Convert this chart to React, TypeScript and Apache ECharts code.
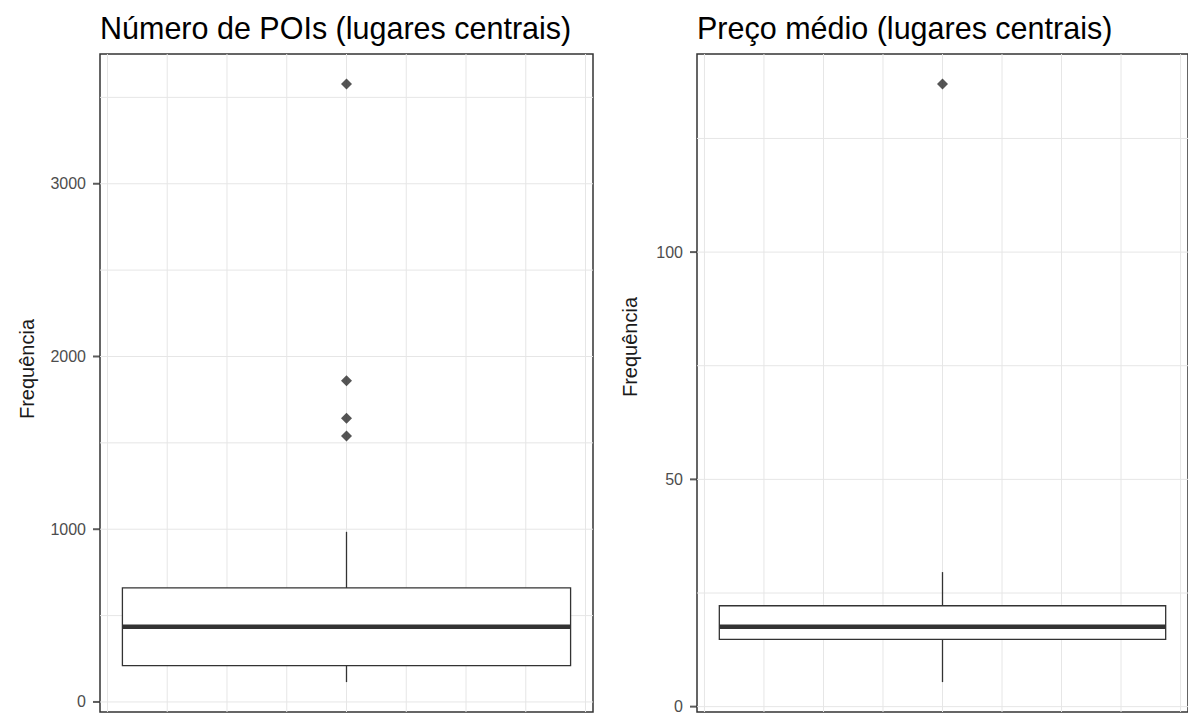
import React, { useEffect, useRef } from "react";
import * as echarts from "echarts";

// Panel texts
const panelTitles = ["Número de POIs (lugares centrais)", "Preço médio (lugares centrais)"];
const yAxisTitle = "Frequência";

// Five-number summaries: lower whisker, Q1, median, Q3, upper whisker
const poiBox = [115, 210, 436, 660, 985];
const poiOutliers = [3578, 1860, 1642, 1539];
const priceBox = [5.4, 14.8, 17.6, 22.2, 29.6];
const priceOutliers = [137];

// Tick labels and grid lines
const poiTicks = [0, 1000, 2000, 3000];
const poiGridLines = [0, 500, 1000, 1500, 2000, 2500, 3000, 3500];
const priceTicks = [0, 50, 100];
const priceGridLines = [0, 25, 50, 75, 100, 125];
const xGridLines = [-0.4, -0.3, -0.2, -0.1, 0, 0.1, 0.2, 0.3, 0.4];

const BOX_HALF_WIDTH = 0.375;
const X_LIMIT = 0.4125;
const TICK_LENGTH = 7;
const INK = "#333333";
const GRID_COLOR = "#e6e6e6";
const FONT = "'Liberation Sans', Arial, sans-serif";

// ggplot-like 5% expansion of the data range
function expandedRange(box: number[], outliers: number[]) {
  const lo = Math.min(box[0], ...outliers);
  const hi = Math.max(box[4], ...outliers);
  const pad = (hi - lo) * 0.05;
  return [lo - pad, hi + pad];
}

// Draws panel grid lines and a ggplot-style box (no whisker caps)
function makeBoxRenderer(yLines: number[]) {
  return (params: any, api: any) => {
    const cs = params.coordSys;
    const x = api.value(0);
    const halfW = api.size([BOX_HALF_WIDTH, 0])[0];
    const cx = api.coord([x, api.value(1)])[0];
    const yLo = api.coord([x, api.value(1)])[1];
    const yQ1 = api.coord([x, api.value(2)])[1];
    const yMed = api.coord([x, api.value(3)])[1];
    const yQ3 = api.coord([x, api.value(4)])[1];
    const yHi = api.coord([x, api.value(5)])[1];
    const children: any[] = [];
    yLines.forEach((v) => {
      const y = api.coord([0, v])[1];
      children.push({
        type: "line",
        shape: { x1: cs.x, y1: y, x2: cs.x + cs.width, y2: y },
        style: { stroke: GRID_COLOR, lineWidth: 1 },
      });
    });
    xGridLines.forEach((v) => {
      const gx = api.coord([v, 0])[0];
      children.push({
        type: "line",
        shape: { x1: gx, y1: cs.y, x2: gx, y2: cs.y + cs.height },
        style: { stroke: GRID_COLOR, lineWidth: 1 },
      });
    });
    children.push(
      { type: "line", shape: { x1: cx, y1: yLo, x2: cx, y2: yQ1 }, style: { stroke: INK, lineWidth: 1.3 } },
      { type: "line", shape: { x1: cx, y1: yQ3, x2: cx, y2: yHi }, style: { stroke: INK, lineWidth: 1.3 } },
      {
        type: "rect",
        shape: { x: cx - halfW, y: yQ3, width: halfW * 2, height: yQ1 - yQ3 },
        style: { fill: "#ffffff", stroke: INK, lineWidth: 1.3 },
      },
      {
        type: "line",
        shape: { x1: cx - halfW, y1: yMed, x2: cx + halfW, y2: yMed },
        style: { stroke: INK, lineWidth: 4.5 },
      }
    );
    return { type: "group", children };
  };
}

export default function App() {
  const ref = useRef<HTMLDivElement>(null);

  useEffect(() => {
    if (!ref.current) return;
    const chart = echarts.init(ref.current, undefined, { renderer: "svg" });
    const poiRange = expandedRange(poiBox, poiOutliers);
    const priceRange = expandedRange(priceBox, priceOutliers);

    const gridBase = {
      show: true,
      top: 54,
      height: 658,
      backgroundColor: "#ffffff",
      borderColor: INK,
      borderWidth: 1.5,
      containLabel: false,
    };

    const xAxisBase = {
      type: "value",
      min: -X_LIMIT,
      max: X_LIMIT,
      axisLabel: { show: false },
      axisTick: { show: false },
      axisLine: { show: false, onZero: false },
      splitLine: { show: false },
    };

    const yAxisBase = (ticks: number[], range: number[], gridIndex: number) => ({
      type: "value",
      gridIndex,
      min: range[0],
      max: range[1],
      axisLine: { show: false, onZero: false },
      axisTick: { show: false, customValues: ticks },
      axisLabel: {
        show: true,
        customValues: ticks,
        margin: 14,
        fontSize: 16,
        color: "#4d4d4d",
        fontFamily: FONT,
        formatter: (v: number) => String(v),
      },
      splitLine: { show: false },
    });

    const outlierSeries = (values: number[], idx: number) => ({
      type: "scatter",
      xAxisIndex: idx,
      yAxisIndex: idx,
      symbol: "diamond",
      symbolSize: 11,
      itemStyle: { color: "#2b2b2b" },
      z: 5,
      silent: true,
      data: values.map((v) => [0, v]),
    });

    // Short tick marks just outside the left panel edge
    const tickSeries = (ticks: number[], idx: number) => ({
      type: "scatter",
      xAxisIndex: idx,
      yAxisIndex: idx,
      symbol: "rect",
      symbolSize: [TICK_LENGTH, 2],
      symbolOffset: [-TICK_LENGTH / 2, 0],
      itemStyle: { color: INK },
      clip: false,
      z: 6,
      silent: true,
      data: ticks.map((v) => [-X_LIMIT, v]),
    });

    const boxSeries = (box: number[], yLines: number[], idx: number) => ({
      type: "custom",
      xAxisIndex: idx,
      yAxisIndex: idx,
      renderItem: makeBoxRenderer(yLines),
      encode: { x: 0, y: [1, 2, 3, 4, 5] },
      z: 2,
      silent: true,
      data: [[0, ...box]],
    });

    const titleStyle = { fontSize: 30.5, fontWeight: "normal", color: "#000000", fontFamily: FONT };
    const axisTitle = (x: number, y: number) => ({
      type: "text",
      x,
      y,
      rotation: Math.PI / 2,
      silent: true,
      style: {
        text: yAxisTitle,
        fontSize: 20,
        fontFamily: FONT,
        fill: "#1a1a1a",
        textAlign: "center",
        textVerticalAlign: "middle",
      },
    });

    chart.setOption({
      animation: false,
      backgroundColor: "#ffffff",
      title: [
        { text: panelTitles[0], left: 100, top: 12, padding: 0, textStyle: titleStyle },
        { text: panelTitles[1], left: 697, top: 12, padding: 0, textStyle: titleStyle },
      ],
      graphic: [axisTitle(27, 369), axisTitle(630, 347)],
      grid: [
        { ...gridBase, left: 100, width: 493 },
        { ...gridBase, left: 697, width: 492 },
      ],
      xAxis: [
        { ...xAxisBase, gridIndex: 0 },
        { ...xAxisBase, gridIndex: 1 },
      ],
      yAxis: [yAxisBase(poiTicks, poiRange, 0), yAxisBase(priceTicks, priceRange, 1)],
      series: [
        boxSeries(poiBox, poiGridLines, 0),
        outlierSeries(poiOutliers, 0),
        tickSeries(poiTicks, 0),
        boxSeries(priceBox, priceGridLines, 1),
        outlierSeries(priceOutliers, 1),
        tickSeries(priceTicks, 1),
      ],
    });

    return () => chart.dispose();
  }, []);

  return (
    <div
      ref={ref}
      style={{ position: "absolute", left: 0, top: 0, width: 1188, height: 715, background: "#ffffff" }}
    />
  );
}
